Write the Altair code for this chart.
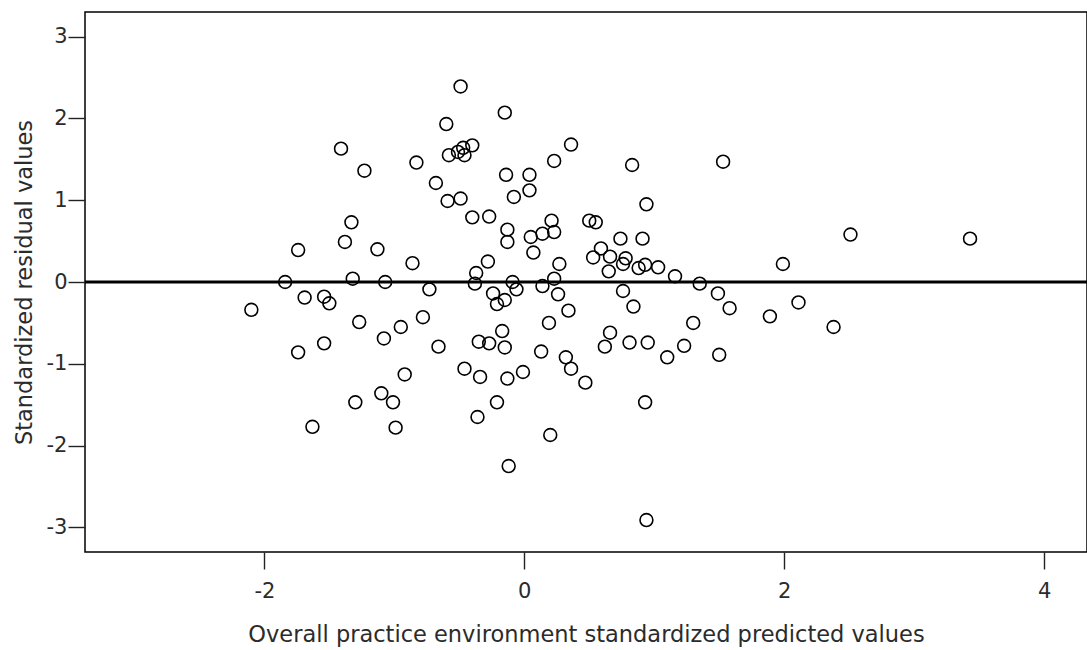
import altair as alt
import pandas as pd

# Predicted (x) and residual (y) values
pred = [-2.10, -1.84, -1.74, -1.69, -1.74, -1.63, -1.54, -1.50, -1.54, -1.41,
        -1.38, -1.33, -1.32, -1.27, -1.30, -1.23, -1.13, -1.07, -1.08, -1.10,
        -1.01, -0.99, -0.95, -0.92, -0.86, -0.83, -0.78, -0.73, -0.68, -0.66,
        -0.60, -0.59, -0.58, -0.51, -0.47, -0.46, -0.40, -0.49, -0.49, -0.40,
        -0.46, -0.38, -0.37, -0.35, -0.34, -0.36, -0.28, -0.27, -0.27, -0.24,
        -0.21, -0.21, -0.17, -0.15, -0.15, -0.15, -0.14, -0.13, -0.13, -0.13,
        -0.12, -0.09, -0.06, -0.08, -0.01, 0.04, 0.04, 0.05, 0.07, 0.14,
        0.14, 0.13, 0.21, 0.23, 0.23, 0.23, 0.27, 0.26, 0.19, 0.20,
        0.32, 0.34, 0.36, 0.36, 0.47, 0.50, 0.55, 0.53, 0.59, 0.66,
        0.65, 0.62, 0.66, 0.74, 0.78, 0.76, 0.76, 0.81, 0.83, 0.84,
        0.88, 0.91, 0.93, 0.94, 0.95, 0.93, 0.94, 1.03, 1.10, 1.16,
        1.23, 1.30, 1.35, 1.49, 1.50, 1.53, 1.58, 1.89, 1.99, 2.11,
        2.38, 2.51, 3.43]
resid = [-0.34, 0.00, 0.39, -0.19, -0.86, -1.77, -0.18, -0.26, -0.75, 1.63,
         0.49, 0.73, 0.04, -0.49, -1.47, 1.36, 0.40, 0.00, -0.69, -1.36,
         -1.47, -1.78, -0.55, -1.13, 0.23, 1.46, -0.43, -0.09, 1.21, -0.79,
         1.93, 0.99, 1.55, 1.59, 1.64, 1.55, 1.67, 2.39, 1.02, 0.79,
         -1.06, -0.02, 0.11, -0.73, -1.16, -1.65, 0.25, 0.80, -0.75, -0.14,
         -0.27, -1.47, -0.60, -0.22, -0.80, 2.07, 1.31, 0.64, 0.49, -1.18,
         -2.25, 0.00, -0.09, 1.04, -1.10, 1.31, 1.12, 0.55, 0.36, 0.59,
         -0.05, -0.85, 0.75, 0.61, 1.48, 0.04, 0.22, -0.15, -0.50, -1.87,
         -0.92, -0.35, 1.68, -1.06, -1.23, 0.75, 0.73, 0.30, 0.41, 0.31,
         0.13, -0.79, -0.62, 0.53, 0.29, 0.22, -0.11, -0.74, 1.43, -0.30,
         0.17, 0.53, 0.21, 0.95, -0.74, -1.47, -2.91, 0.18, -0.92, 0.07,
         -0.78, -0.50, -0.02, -0.14, -0.89, 1.47, -0.32, -0.42, 0.22, -0.25,
         -0.55, 0.58, 0.53]

x_ticks = [-2, 0, 2, 4]
y_ticks = [-3, -2, -1, 0, 1, 2, 3]
ref_y = [0]

df = pd.DataFrame({"pred": pred, "resid": resid})
ref = pd.DataFrame({"y": ref_y})

FONT = "DejaVu Sans"
TXT = "#2b2b2b"
LABEL_EXPR = "'' + datum.value"

xscale = alt.Scale(domain=[-3.38, 4.33], nice=False, zero=False)
yscale = alt.Scale(domain=[-3.3, 3.3], nice=False, zero=False)

points = alt.Chart(df).mark_point(
    shape="circle", filled=False, color="#000000", strokeWidth=1.6, size=165, opacity=1
).encode(
    x=alt.X("pred:Q", scale=xscale,
            axis=alt.Axis(values=x_ticks, labelExpr=LABEL_EXPR,
                          title="Overall practice environment standardized predicted values",
                          grid=False, domain=False, tickColor="#222222", tickSize=17, tickWidth=1.4,
                          labelFontSize=21, labelColor=TXT, labelFont=FONT, labelPadding=11,
                          titleFontSize=22.5, titleFont=FONT, titleColor=TXT, titleFontWeight="normal",
                          titlePadding=22)),
    y=alt.Y("resid:Q", scale=yscale,
            axis=alt.Axis(values=y_ticks, labelExpr=LABEL_EXPR,
                          title="Standardized residual values",
                          grid=False, domain=False, tickColor="#222222", tickSize=17, tickWidth=1.4,
                          labelFontSize=21, labelColor=TXT, labelFont=FONT, labelPadding=1,
                          titleFontSize=22.5, titleFont=FONT, titleColor=TXT, titleFontWeight="normal",
                          titlePadding=10)),
)

rule = alt.Chart(ref).mark_rule(color="#000000", strokeWidth=3).encode(
    y=alt.Y("y:Q", scale=yscale)
)

chart = alt.layer(rule, points).properties(
    width=1002, height=540,
    autosize=alt.AutoSizeParams(type="none"),
    padding={"left": 85, "top": 12, "right": 0, "bottom": 98},
    background="#ffffff",
).configure_view(stroke="#000000", strokeWidth=1.5)

chart.save("out.html", embed_options={"renderer": "svg", "actions": False})
